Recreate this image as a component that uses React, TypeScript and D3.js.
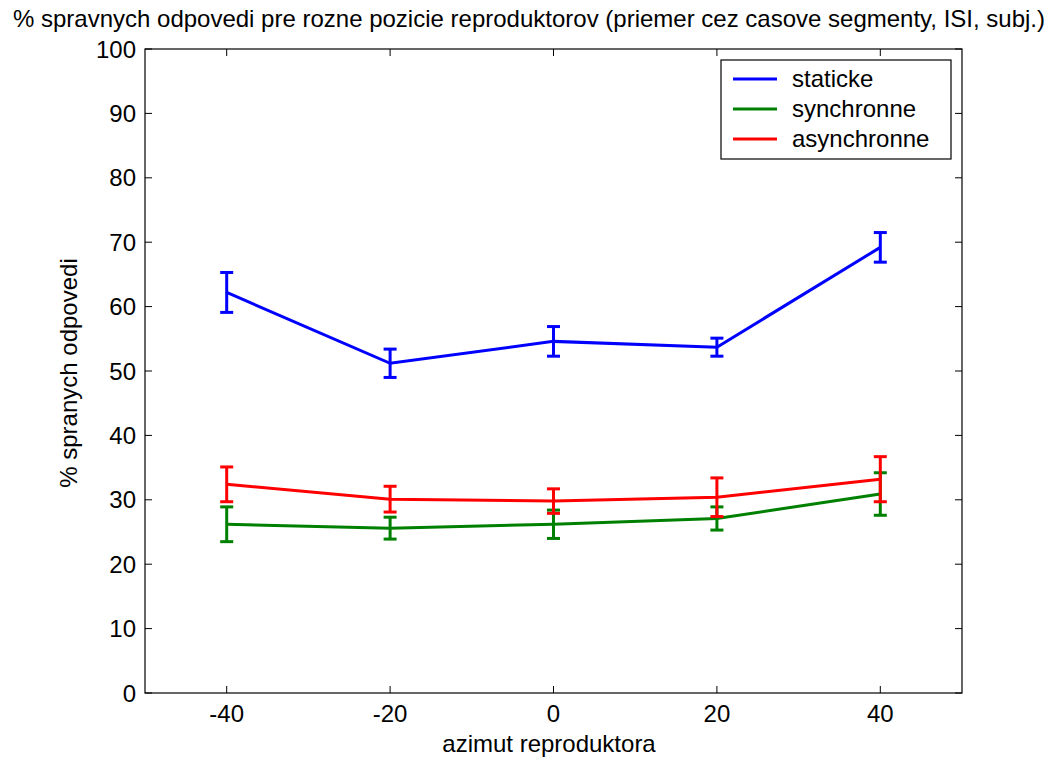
import React from 'react';
import * as d3 from 'd3';

const azimuths = [-40, -20, 0, 20, 40];
const seriesNames = ['staticke', 'synchronne', 'asynchronne'];
const seriesColors = ['#0000ff', '#008000', '#ff0000'];
const staticMean = [62.2, 51.2, 54.6, 53.7, 69.2];
const staticErr = [3.1, 2.2, 2.3, 1.4, 2.3];
const syncMean = [26.2, 25.6, 26.2, 27.1, 30.9];
const syncErr = [2.7, 1.7, 2.2, 1.8, 3.3];
const asyncMean = [32.4, 30.1, 29.8, 30.4, 33.2];
const asyncErr = [2.7, 2.0, 1.9, 3.0, 3.5];
const xTicks = [-40, -20, 0, 20, 40];
const yTicks = [0, 10, 20, 30, 40, 50, 60, 70, 80, 90, 100];

const W = 1056;
const H = 758;
const margin = { left: 145, right: 94, top: 49, bottom: 65 };
const font = 'Arial, "Liberation Sans", sans-serif';
const fs = 24;

export default function App() {
  const x = d3.scaleLinear().domain([-50, 50]).range([margin.left, W - margin.right]);
  const y = d3.scaleLinear().domain([0, 100]).range([H - margin.bottom, margin.top]);
  const line = d3.line<[number, number]>().x(d => x(d[0])).y(d => y(d[1]));

  const series = [
    { mean: staticMean, err: staticErr },
    { mean: syncMean, err: syncErr },
    { mean: asyncMean, err: asyncErr },
  ];

  const x0 = x(-50), x1 = x(50), y0 = y(0), y1 = y(100);
  const tl = 7;
  const cap = 6.5;

  return (
    <svg width={W} height={H} style={{ position: 'absolute', left: 0, top: 0 }} fontFamily={font}>
      <rect width={W} height={H} fill="#fff" />
      <text x={529} y={27} textAnchor="middle" fontSize={fs}>
        % spravnych odpovedi pre rozne pozicie reproduktorov (priemer cez casove segmenty, ISI, subj.)
      </text>
      {series.map((s, i) => (
        <g key={seriesNames[i]} stroke={seriesColors[i]} strokeWidth={3} fill="none">
          <path d={line(azimuths.map((a, j) => [a, s.mean[j]] as [number, number])) || ''} />
          {azimuths.map((a, j) => {
            const cx = x(a);
            const top = y(s.mean[j] + s.err[j]);
            const bot = y(s.mean[j] - s.err[j]);
            return (
              <g key={a}>
                <line x1={cx} x2={cx} y1={top} y2={bot} />
                <line x1={cx - cap} x2={cx + cap} y1={top} y2={top} />
                <line x1={cx - cap} x2={cx + cap} y1={bot} y2={bot} />
              </g>
            );
          })}
        </g>
      ))}
      <rect x={x0} y={y1} width={x1 - x0} height={y0 - y1} fill="none" stroke="#000" strokeWidth={1.2} />
      {xTicks.map(t => (
        <g key={'x' + t}>
          <line x1={x(t)} x2={x(t)} y1={y0} y2={y0 - tl} stroke="#000" />
          <line x1={x(t)} x2={x(t)} y1={y1} y2={y1 + tl} stroke="#000" />
          <text x={x(t)} y={y0 + 28.5} textAnchor="middle" fontSize={fs}>{t}</text>
        </g>
      ))}
      {yTicks.map(t => (
        <g key={'y' + t}>
          <line x1={x0} x2={x0 + tl} y1={y(t)} y2={y(t)} stroke="#000" />
          <line x1={x1} x2={x1 - tl} y1={y(t)} y2={y(t)} stroke="#000" />
          <text x={x0 - 9} y={y(t) + 8.5} textAnchor="end" fontSize={fs}>{t}</text>
        </g>
      ))}
      <text x={549} y={752} textAnchor="middle" fontSize={fs}>azimut reproduktora</text>
      <text transform={`translate(77,${(y0 + y1) / 2 + 2}) rotate(-90)`} textAnchor="middle" fontSize={fs}>
        % spranych odpovedi
      </text>
      <g>
        <rect x={721} y={60} width={230} height={99} fill="#fff" stroke="#000" strokeWidth={1.2} />
        {seriesNames.map((n, i) => (
          <g key={n}>
            <line x1={733} x2={777} y1={79 + i * 30} y2={79 + i * 30} stroke={seriesColors[i]} strokeWidth={3} />
            <text x={792} y={79 + i * 30 + 8} fontSize={fs}>{n}</text>
          </g>
        ))}
      </g>
    </svg>
  );
}
